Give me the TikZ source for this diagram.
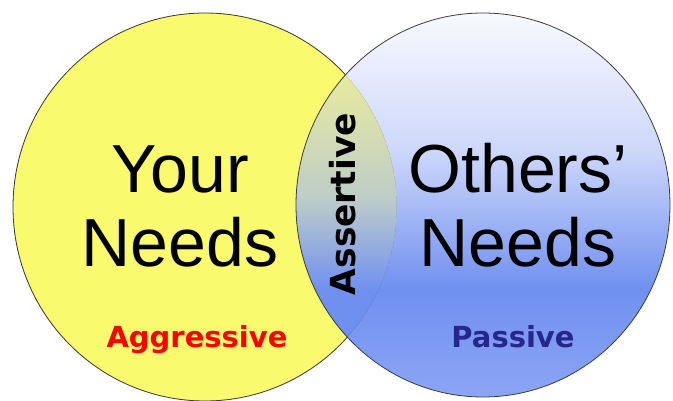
\documentclass[tikz,border=0pt]{standalone}
\usepackage{fontspec}
\setmainfont{Liberation Sans}
\newfontfamily\verdanaish{DejaVu Sans}
\usepackage{xcolor}
\usepackage{tikz}
\usetikzlibrary{positioning}
\definecolor{vyellow}{RGB}{250, 250, 110}
\definecolor{vline}{RGB}{60, 60, 60}
\definecolor{vred}{RGB}{255, 0, 0}
\definecolor{vnavy}{RGB}{38, 38, 140}
\definecolor{blueA}{RGB}{140, 165, 245}
\definecolor{blueB}{RGB}{112, 144, 240}
\definecolor{blueC}{RGB}{205, 215, 250}
\definecolor{blueD}{RGB}{248, 249, 254}
\definecolor{lensB}{RGB}{190, 205, 200}
\definecolor{lensC}{RGB}{232, 234, 158}
\pgfdeclareverticalshading{othersfill}{100bp}{
  color(0bp)=(blueA); color(25bp)=(blueA); color(39bp)=(blueB);
  color(57bp)=(blueC); color(75bp)=(blueD); color(100bp)=(blueD)}
\pgfdeclareverticalshading{lensfill}{100bp}{
  color(0bp)=(blueB); color(39bp)=(blueB); color(51bp)=(lensB);
  color(67bp)=(lensC); color(100bp)=(lensC)}

\begin{document}
\begin{tikzpicture}[
      x=1pt, y=1pt,
      big/.style ={font=\fontsize{68}{74}\selectfont, align=center, anchor=base, inner sep=0pt},
      tag/.style ={font=\verdanaish\bfseries\fontsize{29}{34}\selectfont, anchor=base, inner sep=0pt},
      ring/.style={draw=vline, line width=0.8pt},
    ]
      \useasboundingbox (0,0) rectangle (673,401);
      % the two sets
      \fill[vyellow] (205,194) ellipse (192 and 194);
      \draw[ring] (205,194) ellipse (192 and 194);
      \shade[shading=othersfill] (483,196) ellipse (187 and 192);
      \begin{scope}
        \clip (205,194) ellipse (192 and 194);
        \shade[shading=lensfill] (483,196) ellipse (187 and 192);
        \draw[vline, line width=0.6pt, opacity=0.25] (205,194) ellipse (192 and 194);
      \end{scope}
      \draw[ring] (483,196) ellipse (187 and 192);
      % labels
      \node[big] (yours)  at (180,134) {Your\\Needs};
      \node[big] (others) at (518,134) {Others’\\Needs};
      \node[tag, vred]  (aggr) at (197,53) {Aggressive};
      \node[tag, vnavy] (pass) at (513,53) {Passive};
      \node[tag, font=\verdanaish\bfseries\fontsize{34.5}{40}\selectfont, rotate=90] (asrt) at (355,197) {Assertive};
    \end{tikzpicture}
\end{document}
